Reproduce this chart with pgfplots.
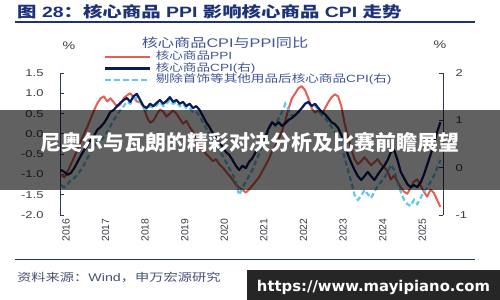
\documentclass[border=0pt]{standalone}
\usepackage{pgfplots}
\pgfplotsset{compat=1.18}
\usepackage{pgfplotstable}
\usepackage{graphicx}
\usepackage{fontspec}
\setmainfont{Liberation Sans}[FakeStretch=1.3]
\newfontfamily\cjk{Noto Sans CJK SC}[FakeStretch=1.3]
\newfontfamily\plainsans{Liberation Sans}
\newfontfamily\cjkplain{Noto Sans CJK SC}
\newfontfamily\wmfont{DejaVu Sans}
\definecolor{titleblue}{RGB}{30,50,120}
\definecolor{spine}{RGB}{45,55,90}
\definecolor{tickc}{RGB}{60,60,70}
\definecolor{legc}{RGB}{65,85,150}
\definecolor{srcc}{RGB}{70,80,120}
\definecolor{redc}{RGB}{230,95,80}
\definecolor{navyc}{RGB}{12,28,88}
\definecolor{lbc}{RGB}{95,200,235}

\pgfplotstableread{
m red navy lb
0 -1.000 -0.05 -0.37
1 -1.075 -0.09 -0.41
2 -0.925 -0.15 -0.35
3 -0.750 -0.11 -0.26
4 -0.575 -0.01 -0.22
5 -0.375 0.12 -0.15
6 -0.175 0.25 -0.05
7 0.000 0.37 0.06
8 0.175 0.46 0.20
9 0.375 0.58 0.33
10 0.575 0.67 0.44
11 0.750 0.80 0.54
12 0.875 0.86 0.58
13 0.925 0.94 0.65
14 0.800 1.05 0.75
15 0.875 1.18 0.88
16 0.775 1.22 1.01
17 0.675 1.30 1.11
18 0.725 1.37 1.22
19 0.875 1.43 1.30
20 0.950 1.47 1.39
21 1.000 1.39 1.35
22 0.900 1.51 1.43
23 0.800 1.56 1.49
24 0.775 1.43 1.39
25 0.675 1.30 1.26
26 0.425 1.26 1.22
27 0.275 1.35 1.30
28 0.325 1.30 1.26
29 0.475 1.37 1.32
30 0.600 1.43 1.39
31 0.550 1.35 1.30
32 0.425 1.41 1.35
33 0.500 1.49 1.43
34 0.575 1.39 1.35
35 0.500 1.43 1.39
36 0.375 1.35 1.30
37 0.250 1.39 1.35
38 0.325 1.30 1.26
39 0.175 1.35 1.26
40 0.050 1.26 1.18
41 -0.125 1.30 1.18
42 -0.275 1.22 1.09
43 -0.375 1.09 0.96
44 -0.500 0.96 0.84
45 -0.575 0.86 0.71
46 -0.675 0.73 0.58
47 -0.625 0.63 0.46
48 -0.750 0.54 0.37
49 -0.825 0.44 0.25
50 -0.925 0.33 0.12
51 -1.025 0.27 -0.01
52 -1.125 0.16 -0.13
53 -1.250 0.04 -0.30
54 -1.325 -0.05 -0.58
55 -1.375 0.04 -0.43
56 -1.450 -0.01 -0.30
57 -1.375 0.12 -0.18
58 -1.275 0.20 -0.05
59 -1.175 0.33 0.12
60 -1.075 0.42 0.29
61 -0.925 0.54 0.46
62 -0.775 0.67 0.63
63 -0.625 0.84 0.80
64 -0.425 0.96 0.96
65 -0.300 0.90 0.88
66 -0.125 0.96 1.05
67 0.075 0.88 1.18
68 0.325 0.94 1.35
69 0.625 1.01 1.22
70 0.875 1.05 1.09
71 1.000 1.11 1.13
72 1.125 1.18 1.18
73 1.175 1.26 1.26
74 1.075 1.35 1.35
75 0.875 1.39 1.37
76 0.625 1.30 1.28
77 0.525 1.35 1.30
78 0.575 1.26 1.22
79 0.475 1.18 1.11
80 0.625 1.13 1.05
81 0.775 1.05 0.96
82 0.900 0.96 0.86
83 0.975 0.92 0.75
84 0.925 0.84 0.63
85 0.675 0.69 0.48
86 0.250 0.48 0.20
87 -0.075 0.27 -0.05
88 -0.375 0.10 -0.30
89 -0.625 -0.05 -0.58
90 -0.750 -0.18 -0.68
91 -0.675 -0.26 -0.60
92 -0.575 -0.18 -0.47
93 -0.675 -0.09 -0.56
94 -0.775 -0.18 -0.64
95 -0.700 -0.26 -0.51
96 -0.625 -0.15 -0.39
97 -0.750 -0.05 -0.30
98 -0.825 0.04 -0.22
99 -0.925 0.16 -0.09
100 -1.125 0.33 0.06
101 -1.025 0.37 -0.05
102 -1.175 0.16 -0.30
103 -1.325 -0.09 -0.51
104 -1.425 -0.22 -0.68
105 -1.475 -0.35 -0.77
106 -1.325 -0.41 -0.81
107 -1.175 -0.37 -0.68
108 -1.125 -0.41 -0.77
109 -1.275 -0.32 -0.64
110 -1.425 -0.15 -0.51
111 -1.550 0.06 -0.43
112 -1.375 0.27 -0.30
113 -1.450 0.48 -0.18
114 -1.625 0.75 -0.01
115 -1.800 0.96 0.16
}\datatable

\pgfplotsset{
  base/.style={
    at={(60bp,85bp)}, anchor=south west,
    scale only axis, width=383bp, height=142bp,
    xmin=-0.3, xmax=115.8,
    tick align=inside, major tick length=4bp,
    ytick style={draw=spine, line width=0.8bp},
    y axis line style={draw=spine, line width=1bp, -},
    yticklabel style={font=\fontsize{10}{12}\selectfont, text=tickc},
  }
}

\begin{document}
\begin{tikzpicture}
\fill[white] (0,0) rectangle (500bp,300bp);
\useasboundingbox (0,0) rectangle (500bp,300bp);

% title
\node[anchor=west, inner sep=0pt, text=titleblue, font=\fontsize{15}{17}\selectfont\bfseries] at (17bp,288bp)
  {{\cjk 图} 28{\cjk ：核心商品} PPI {\cjk 影响核心商品} CPI {\cjk 走势}};
\draw[titleblue, line width=1.3bp] (15bp,278bp) -- (475bp,278bp);

\begin{axis}[base,
  ymin=-2, ymax=1.5,
  axis y line*=left, axis x line*=bottom,
  x axis line style={draw=none},
  xtick={0,12,24,36,48,60,72,84,96,108},
  xticklabels={2016,2017,2018,2019,2020,2021,2022,2023,2024,2025},
  xtick style={draw=none},
  xticklabel style={rotate=90, anchor=east, yshift=-5bp, font=\plainsans\fontsize{10.4}{12}\selectfont, text=tickc},
  ytick={-2,-1.5,-1,-0.5,0,0.5,1,1.5},
  yticklabels={-2.0,-1.5,-1.0,-0.5,0.0,0.5,1.0,1.5},
  yticklabel style={xshift=-13bp},
  legend style={draw=none, fill=none, at={(0,1)}, anchor=north west, xshift=43bp, yshift=22bp,
    inner sep=0pt, row sep=0pt,
    nodes={inner sep=0pt, text height=8.5bp, text depth=3bp, font=\fontsize{10.5}{11}\selectfont, text=legc},
    /tikz/every odd column/.append style={column sep=5bp}},
  legend cell align=left,
  legend image code/.code={\draw[#1] (0bp,0bp) -- (45bp,0bp);},
]
\addplot[redc, line width=2bp, line join=round, forget plot] table[x=m, y=red] {\datatable};
\addlegendimage{redc, line width=2.4bp}
\addlegendentry{{\cjk 核心商品}PPI}
\addlegendimage{navyc, line width=2.6bp}
\addlegendentry{{\cjk 核心商品}CPI({\cjk 右})}
\addlegendimage{lbc, line width=2.6bp, dash pattern=on 6bp off 3bp}
\addlegendentry{{\cjk 剔除首饰等其他用品后核心商品}CPI({\cjk 右})}
\end{axis}

\begin{axis}[base,
  ymin=-1, ymax=2,
  axis y line*=right, axis x line=none,
  ytick={-1,0,1,2}, yticklabels={-1,0,1,2},
  yticklabel style={xshift=9bp},
]
\addplot[lbc, line width=2.2bp, dash pattern=on 5bp off 3bp] table[x=m, y=lb] {\datatable};
\addplot[navyc, line width=2.2bp, line join=round] table[x=m, y=navy] {\datatable};
\end{axis}

% legend title and units
\node[text=legc, font=\fontsize{12.5}{14}\selectfont] at (225bp,257bp) {{\cjk 核心商品}CPI{\cjk 与}PPI{\cjk 同比}};
\node[text=tickc, font=\fontsize{11}{13}\selectfont] at (69bp,254bp) {\%};
\node[text=tickc, font=\fontsize{11}{13}\selectfont] at (440bp,255bp) {\%};

% source
\draw[titleblue, line width=1bp] (15bp,40bp) -- (475bp,40bp);
\node[anchor=west, inner sep=0pt, text=srcc, font=\fontsize{11}{13}\selectfont] at (17bp,23bp)
  {{\cjk 资料来源：}Wind{\cjk ，申万宏源研究}};

% overlay banner
\fill[black, opacity=0.62] (0bp,110bp) rectangle (500bp,190bp);
\node[text=white, font=\cjkplain\fontsize{21}{24}\selectfont\bfseries] at (250bp,158bp)
  {尼奥尔与瓦朗的精彩对决分析及比赛前瞻展望};

% watermark
\fill[black!85] (247bp,0bp) rectangle (500bp,30bp);
\node[text=white, inner sep=0pt] at (373.5bp,13bp)
  {\resizebox{233bp}{!}{\wmfont\bfseries https://www.mayipiano.com}};
\end{tikzpicture}
\end{document}
